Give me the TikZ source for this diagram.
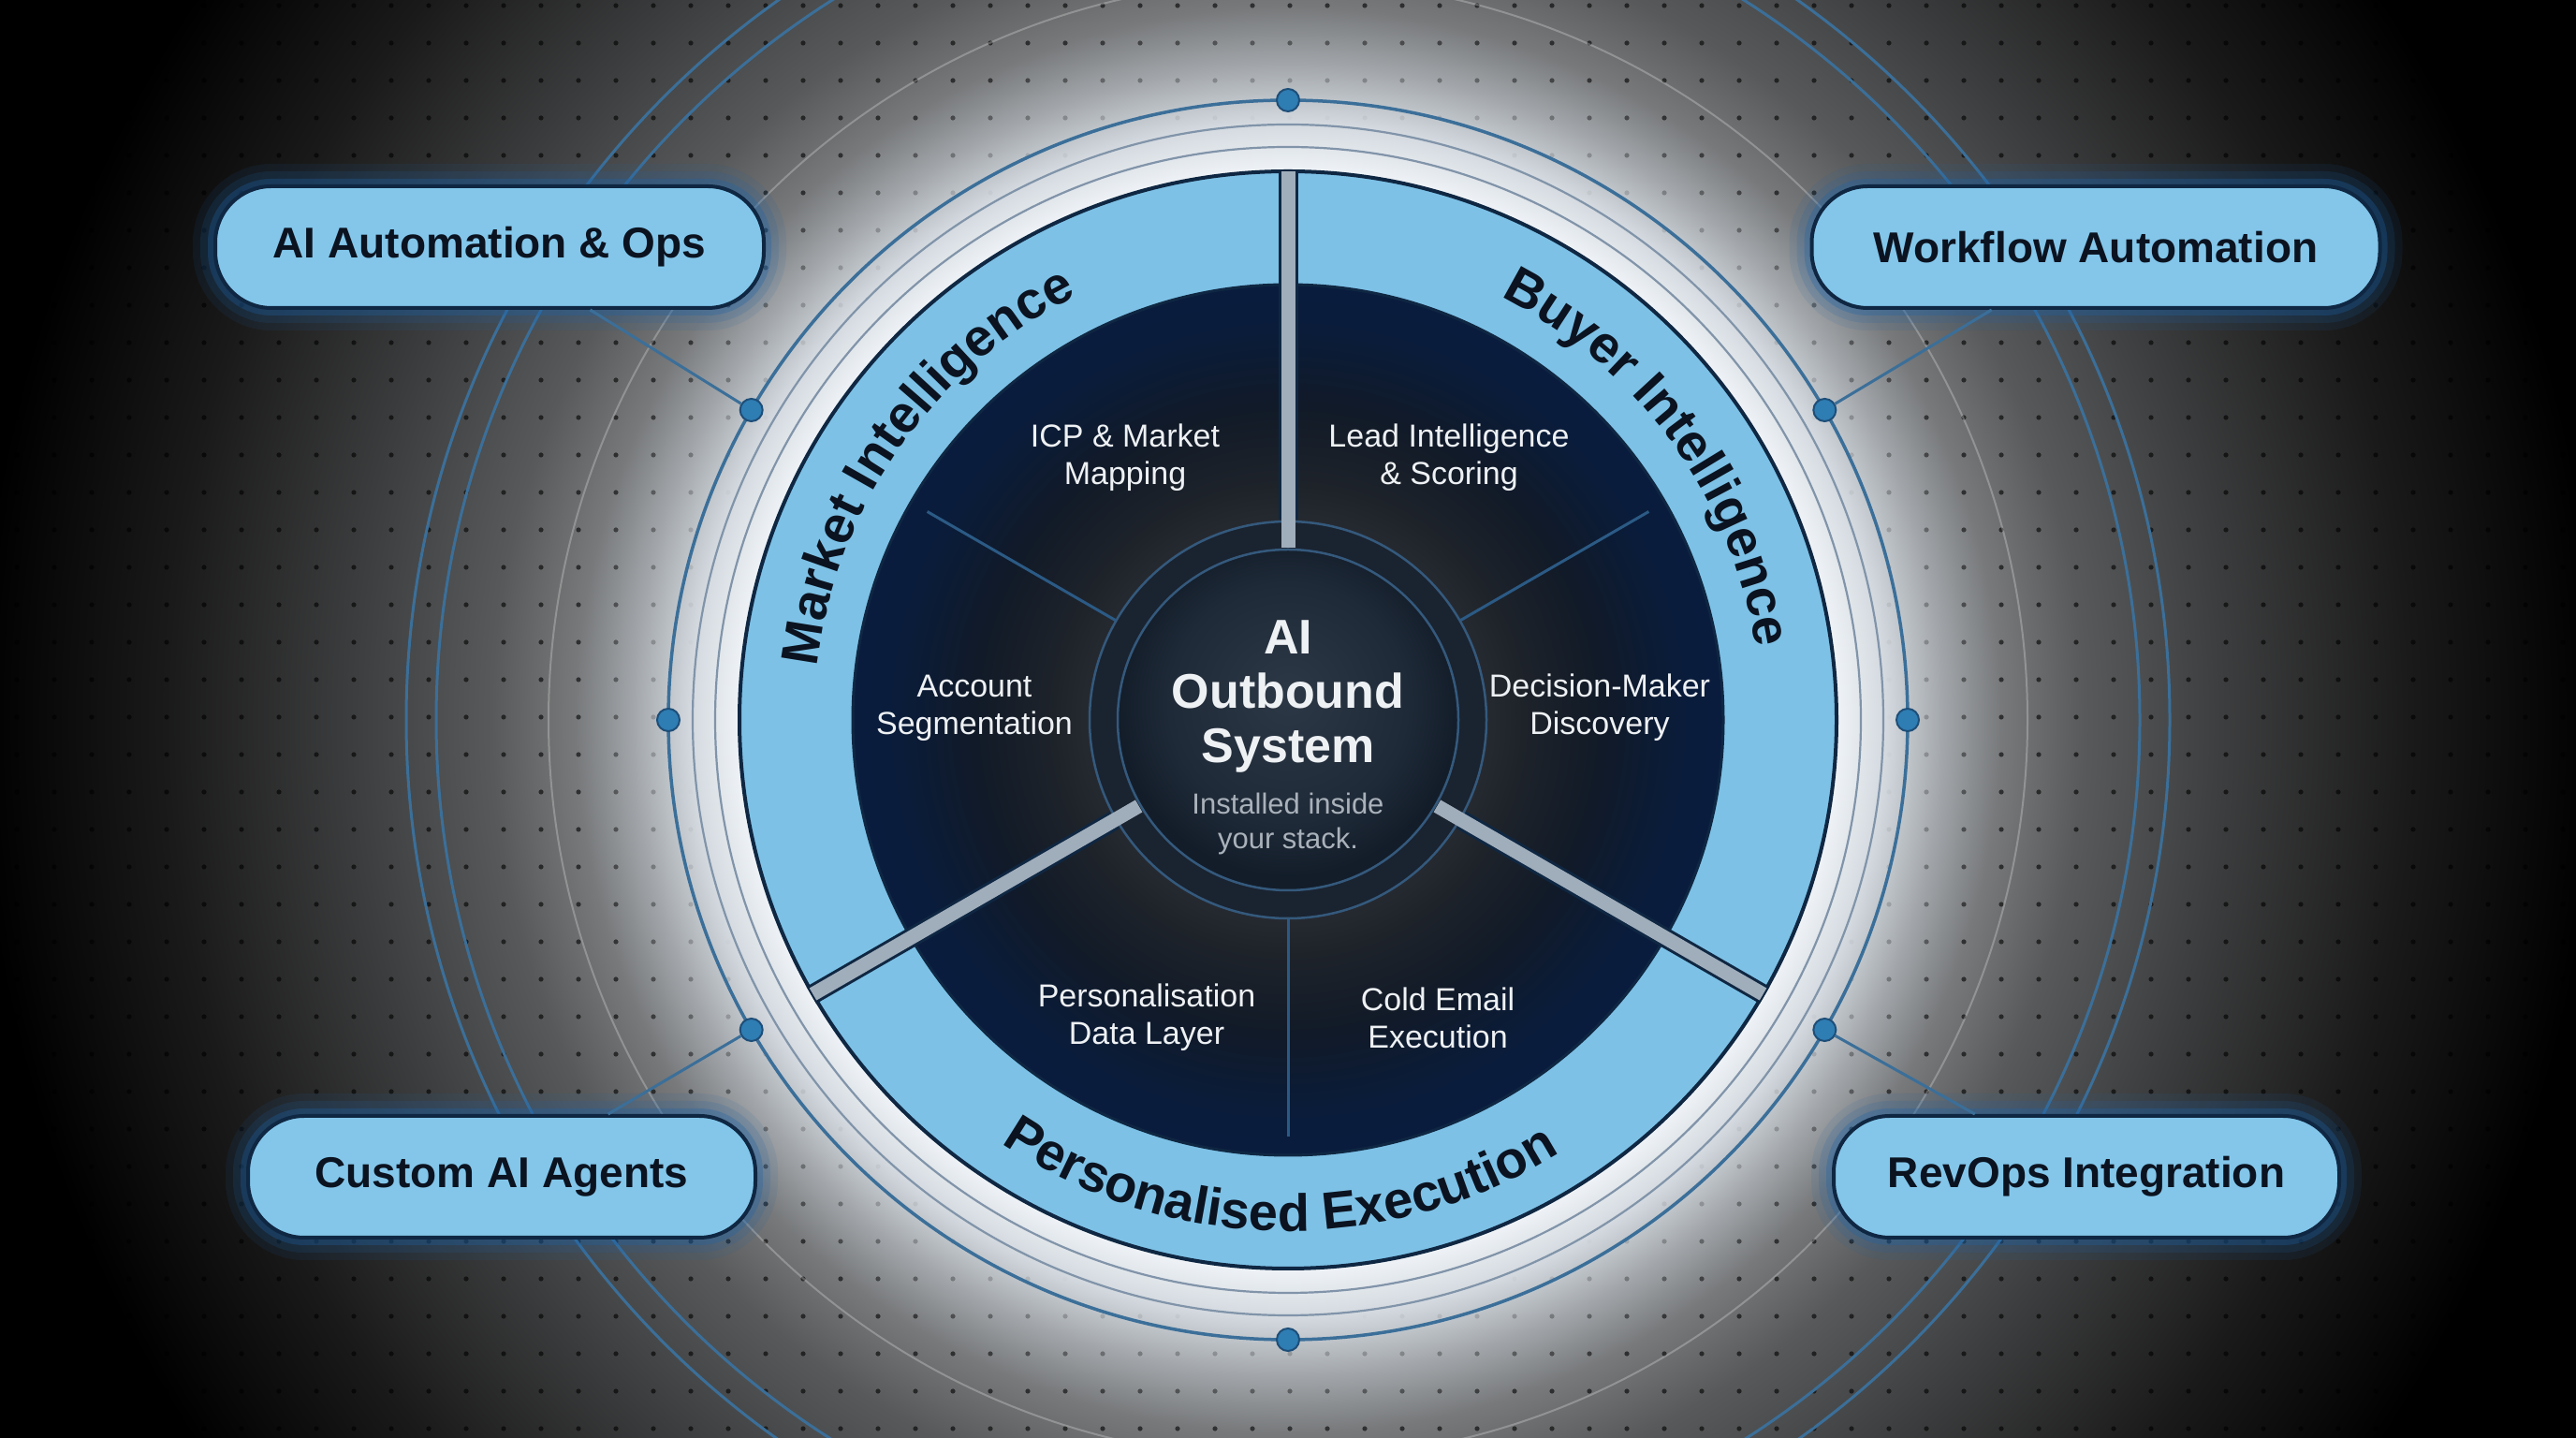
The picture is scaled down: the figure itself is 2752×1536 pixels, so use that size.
\documentclass[tikz,border=0pt]{standalone}
\usepackage{fontspec}
\setmainfont{Liberation Sans}
\usetikzlibrary{decorations.text}

\definecolor{bandblue}{HTML}{7DC1E6}
\definecolor{pillblue}{HTML}{83C6EA}
\definecolor{navy}{HTML}{0F2742}
\definecolor{ringblue}{HTML}{3B6F99}
\definecolor{dotfill}{HTML}{2E7DB3}
\definecolor{dotedge}{HTML}{1E4E78}
\definecolor{glowline}{HTML}{8194A9}
\definecolor{divgray}{HTML}{A0ADBB}
\definecolor{thindiv}{HTML}{2B5A85}
\definecolor{textwhite}{HTML}{EEF1F4}
\definecolor{subgray}{HTML}{A9B1BA}
\definecolor{darktext}{HTML}{0B1320}
\definecolor{glowblue}{HTML}{1F64A8}
\definecolor{ringfill}{HTML}{1A2330}
\definecolor{coreedge}{HTML}{34597C}

\definecolor{glowA}{HTML}{EEF2F6}
\definecolor{glowB}{HTML}{D3D9DF}
\definecolor{glowC}{HTML}{A2A6AA}
\definecolor{glowD}{HTML}{77797B}
\definecolor{glowE}{HTML}{58595A}
\definecolor{glowF}{HTML}{3C3D3E}
\definecolor{glowG}{HTML}{1A1A1A}
\pgfdeclareradialshading{bgglow}{\pgfpoint{0bp}{0bp}}{%
 color(0bp)=(glowA); color(10.5bp)=(glowA); color(11.4bp)=(glowB);
 color(12.5bp)=(glowC); color(13.6bp)=(glowD); color(15.2bp)=(glowE);
 color(17.9bp)=(glowF); color(21.4bp)=(glowG); color(25bp)=(black); color(50bp)=(black)}

\definecolor{diskA}{HTML}{2E3238}
\definecolor{diskB}{HTML}{2A2E34}
\definecolor{diskC}{HTML}{1E232A}
\definecolor{diskD}{HTML}{111A28}
\definecolor{diskE}{HTML}{0A1C3A}
\definecolor{diskF}{HTML}{0A1C3E}
\pgfdeclareradialshading{diskshade}{\pgfpoint{0bp}{0bp}}{%
 color(0bp)=(diskA); color(10bp)=(diskB); color(13.5bp)=(diskC);
 color(18bp)=(diskD); color(22.5bp)=(diskE); color(25bp)=(diskF); color(50bp)=(diskF)}

\definecolor{coreA}{HTML}{2C3846}
\definecolor{coreB}{HTML}{1F2A38}
\definecolor{coreC}{HTML}{131D2A}
\pgfdeclareradialshading{coreshade}{\pgfpoint{0bp}{4bp}}{%
 color(0bp)=(coreA); color(17.5bp)=(coreB); color(25bp)=(coreC); color(50bp)=(coreC)}

\newcommand{\bandfont}{\fontsize{56}{60}\selectfont\bfseries}

\begin{document}
\begin{tikzpicture}[x=1pt,y=1pt,
  pill/.style={rounded corners=60pt, fill=pillblue, draw=navy, line width=4pt,
    minimum height=130pt, text=darktext, inner sep=0pt,
    font=\fontsize{46}{52}\selectfont\bfseries,
    preaction={draw=glowblue, line width=48pt, draw opacity=0.10},
    preaction={draw=glowblue, line width=32pt, draw opacity=0.16},
    preaction={draw=glowblue, line width=16pt, draw opacity=0.30}},
  ringdot/.style={circle, minimum size=24pt, inner sep=0pt, fill=dotfill,
    draw=dotedge, line width=2pt},
  conn/.style={draw=ringblue, line width=3pt},
  lbl/.style={align=center, text=textwhite, font=\fontsize{34}{40}\selectfont},
  bandtext/.style={decorate, decoration={text along path, text align=center,
    text color=darktext, text={|\bandfont|#1}}},
  thickdivO/.style={draw=navy, line width=21pt},
  thickdiv/.style={draw=divgray, line width=15pt},
  thindivider/.style={draw=thindiv, line width=3pt},
]
\useasboundingbox (0,0) rectangle (2752,1536);
\clip (0,0) rectangle (2752,1536);
\coordinate (C) at (1376,767);

% background
\fill[black] (0,0) rectangle (2752,1536);
\shade[shading=bgglow] (C) circle[radius=1400pt];

% dot grid
\foreach \i in {0,...,68}{\foreach \j in {0,...,38}{
  \pgfmathsetmacro\gx{18+40*\i}
  \pgfmathsetmacro\gy{10+40*\j}
  \pgfmathsetmacro\gr{100*veclen((\gx-1376)/100,(\gy-767)/100)}
  \pgfmathsetmacro\go{min(0.6,max(0,(\gr-640)/200))}
  \ifdim\go pt>0.01pt \fill[black, fill opacity=\go] (\gx,\gy) circle[radius=2.6pt];\fi
}}

% outer circles
\draw[white, draw opacity=0.25, line width=2pt] (C) circle[radius=790pt];
\draw[ringblue, line width=3pt] (C) circle[radius=910pt];
\draw[ringblue, line width=3pt] (C) circle[radius=942pt];

% glow ring lines
\draw[glowline, line width=2.2pt] (C) circle[radius=612pt];
\draw[glowline, line width=2.2pt] (C) circle[radius=636pt];
\draw[ringblue, line width=3.5pt] (C) circle[radius=662pt];

% pills
\node[pill, minimum width=586pt] (aiops) at (523,1272) {AI Automation \& Ops};
\node[pill, minimum width=607pt] (workflow) at (2239,1272) {Workflow Automation};
\node[pill, minimum width=542pt] (agents) at (536,279) {Custom AI Agents};
\node[pill, minimum width=540pt] (revops) at (2229,279) {RevOps Integration};

% ring dots
\foreach \a in {0,30,90,150,180,210,270,330}{
  \node[ringdot] (d\a) at ([shift={(\a:662)}]C) {};
}
\draw[conn] (d150) -- (aiops);
\draw[conn] (d30) -- (workflow);
\draw[conn] (d210) -- (agents);
\draw[conn] (d330) -- (revops);

% band and disk
\fill[bandblue] (C) circle[radius=586pt];
\draw[navy, line width=4pt] (C) circle[radius=586pt];
\shade[shading=diskshade] (C) circle[radius=465pt];
\draw[navy, line width=3pt] (C) circle[radius=465pt];

% thin dividers
\foreach \a in {30,150,270}{
  \draw[thindivider] ([shift={(\a:212)}]C) -- ([shift={(\a:445)}]C);
}

% core ring
\fill[ringfill] (C) circle[radius=212pt];
\draw[coreedge, line width=2.5pt] (C) circle[radius=212pt];

% thick dividers
\foreach \a in {90,210,330}{
  \draw[thickdivO] ([shift={(\a:214)}]C) -- ([shift={(\a:588)}]C);
  \draw[thickdiv] ([shift={(\a:184)}]C) -- ([shift={(\a:586)}]C);
}

% core
\node[circle, minimum size=364pt, inner sep=0pt, shading=coreshade,
  draw=coreedge, line width=2.5pt] (core) at (C) {};
\node[align=center, text=textwhite, font=\fontsize{52}{58}\selectfont\bfseries]
  (title) at (1376,792) {AI\\Outbound\\System};
\node[align=center, text=subgray, font=\fontsize{31}{37}\selectfont]
  (subtitle) at (1376,656) {Installed inside\\your stack.};

% band texts
\path[bandtext={Market Intelligence}] ([shift={(195:506)}]C) arc[start angle=195, end angle=95, radius=506pt];
\path[bandtext={Buyer Intelligence}] ([shift={(86:506)}]C) arc[start angle=86, end angle=-14, radius=506pt];
\path[bandtext={Personalised Execution}] ([shift={(219:546)}]C) arc[start angle=219, end angle=319, radius=546pt];

% sector labels
\node[lbl] (icp) at (1202,1047) {ICP \& Market\\Mapping};
\node[lbl] (lead) at (1548,1047) {Lead Intelligence\\\& Scoring};
\node[lbl] (account) at (1041,780) {Account\\Segmentation};
\node[lbl] (decision) at (1709,780) {Decision-Maker\\Discovery};
\node[lbl] (perso) at (1225,449) {Personalisation\\Data Layer};
\node[lbl] (cold) at (1536,449) {Cold Email\\Execution};
\end{tikzpicture}
\end{document}
